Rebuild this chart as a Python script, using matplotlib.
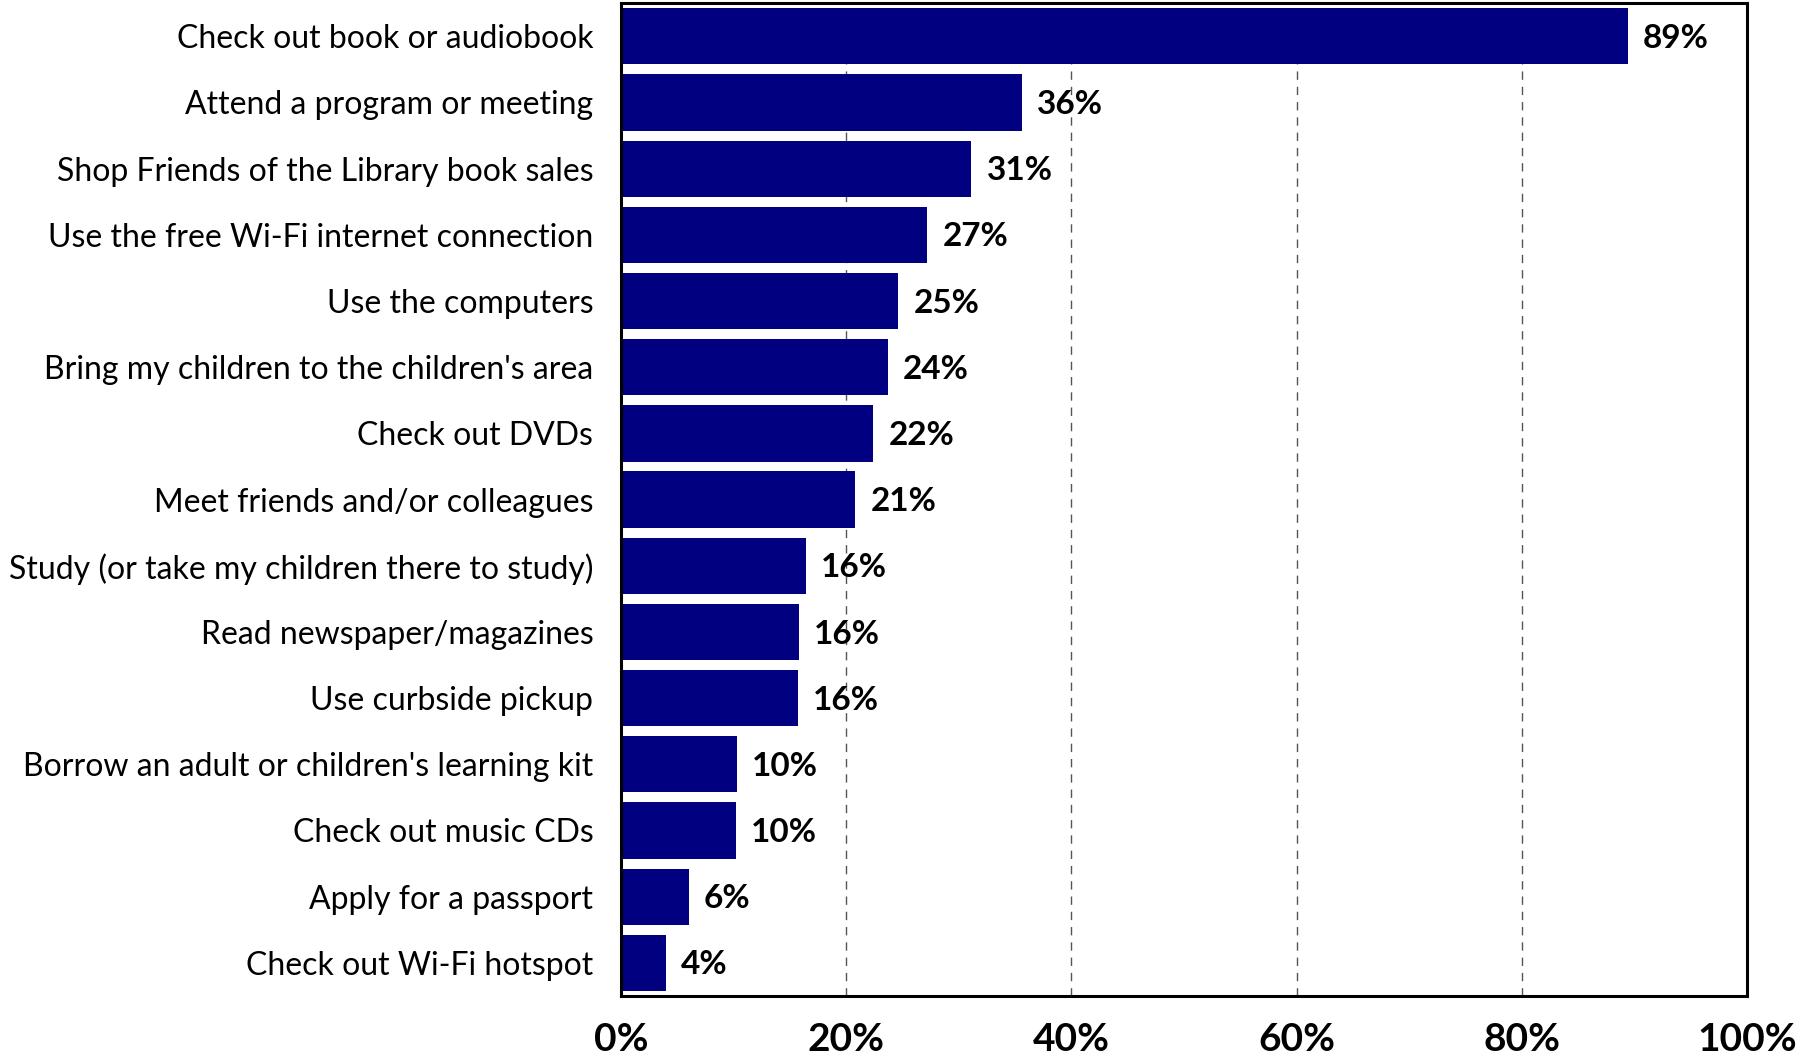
import matplotlib.pyplot as plt
import numpy as np

# Library activity survey: share of respondents doing each activity
activities = [
    "Check out book or audiobook",
    "Attend a program or meeting",
    "Shop Friends of the Library book sales",
    "Use the free Wi-Fi internet connection",
    "Use the computers",
    "Bring my children to the children's area",
    "Check out DVDs",
    "Meet friends and/or colleagues",
    "Study (or take my children there to study)",
    "Read newspaper/magazines",
    "Use curbside pickup",
    "Borrow an adult or children's learning kit",
    "Check out music CDs",
    "Apply for a passport",
    "Check out Wi-Fi hotspot",
]
shares = [89.4, 35.6, 31.1, 27.2, 24.6, 23.7, 22.4, 20.8, 16.4, 15.8, 15.7, 10.3, 10.2, 6.0, 4.0]
xticks = [0, 20, 40, 60, 80, 100]

plt.rcParams['font.family'] = ['Lato', 'DejaVu Sans']

fig = plt.figure(figsize=(17.97, 10.61), dpi=100)
ax = fig.add_axes([0.3456, 0.0613, 0.6266, 0.9357])

y = np.arange(len(activities))
ax.barh(y, shares, height=0.85, color='#000080', zorder=3)

for yi, v in zip(y, shares):
    ax.annotate(f"{v:.0f}%", xy=(v, yi), xytext=(11, -1.5), textcoords='offset points',
                ha='left', va='center', fontsize=24, fontweight='bold', color='black', zorder=4)

ax.set_xlim(0, 100)
ax.set_ylim(len(activities) - 0.5, -0.5)
ax.set_yticks(y)
ax.set_yticklabels(activities, fontsize=23)
ax.set_xticks(xticks)
ax.set_xticklabels([f"{t}%" for t in xticks], fontsize=28, fontweight='bold')
ax.tick_params(axis='y', length=0, pad=20)
ax.tick_params(axis='x', length=0, pad=19)

ax.xaxis.grid(True, linestyle=(0, (6, 5)), color='#555555', linewidth=1.0, zorder=0)
for side in ['left', 'right', 'top', 'bottom']:
    ax.spines[side].set_linewidth(2.2)
    ax.spines[side].set_color('black')
    ax.spines[side].set_zorder(5)

fig.savefig('out.png', dpi=100, facecolor='white')
